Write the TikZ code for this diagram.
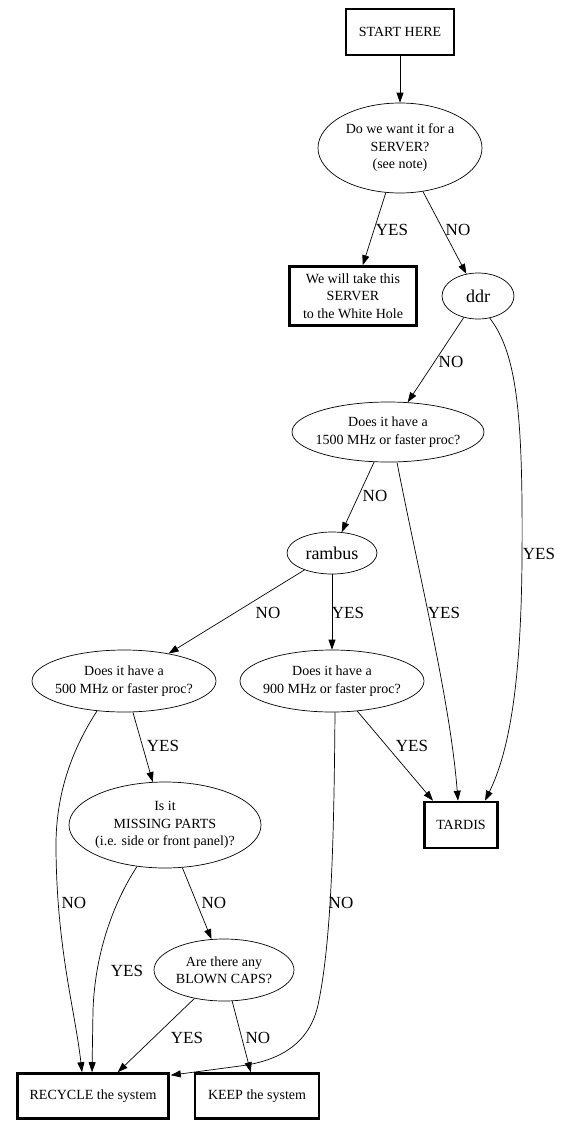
\documentclass[tikz,border=0pt]{standalone}
\usepackage{fontspec}
\setmainfont{Liberation Serif}
\usetikzlibrary{shapes.geometric,arrows.meta}
\begin{document}
\begin{tikzpicture}[x=1pt,y=-1pt,
  box/.style={draw,line width=2.6pt,rectangle,inner sep=0pt,align=center,font=\fontsize{14}{17.5}\selectfont},
  ques/.style={draw,line width=0.7pt,ellipse,inner sep=-15pt,align=center,font=\fontsize{14}{17.5}\selectfont},
  bigq/.style={ques,font=\fontsize{18}{20}\selectfont},
  lbl/.style={inner sep=0pt,font=\fontsize{17}{20}\selectfont},
  conn/.style={draw,line width=0.7pt,-{Triangle[length=10pt,width=7pt]}}]
\useasboundingbox (0,0) rectangle (566,1127);
% nodes
\node[box,minimum width=108pt,minimum height=46pt] (start) at (400,32) {START HERE};
\node[ques,minimum width=164pt,minimum height=90pt] (q1) at (400,148) {Do we want it for a\\SERVER?\\(see note)};
\node[box,minimum width=127pt,minimum height=59pt] (wh) at (353,296) {We will take this\\SERVER\\to the White Hole};
\node[bigq,minimum width=72pt,minimum height=46pt] (ddr) at (478,296) {ddr};
\node[ques,minimum width=192pt,minimum height=60pt] (q3) at (388,432) {Does it have a\\1500 MHz or faster proc?};
\node[bigq,minimum width=90pt,minimum height=42pt] (rambus) at (332,553) {rambus};
\node[ques,minimum width=184pt,minimum height=62pt] (q500) at (124,681) {Does it have a\\500 MHz or faster proc?};
\node[ques,minimum width=184pt,minimum height=62pt] (q900) at (332,681) {Does it have a\\900 MHz or faster proc?};
\node[ques,minimum width=192pt,minimum height=86pt] (missing) at (165,825) {Is it\\MISSING PARTS\\(i.e. side or front panel)?};
\node[box,minimum width=73pt,minimum height=46pt] (tardis) at (461,825) {TARDIS};
\node[ques,minimum width=140pt,minimum height=62pt] (blown) at (224,970) {Are there any\\BLOWN CAPS?};
\node[box,minimum width=151pt,minimum height=45pt] (recycle) at (93,1096) {RECYCLE the system};
\node[box,minimum width=124pt,minimum height=45pt] (keep) at (257,1096) {KEEP the system};
% connectors
\draw[conn] (start) -- (q1);
\draw[conn] (q1) -- (wh);
\draw[conn] (q1) -- (ddr);
\draw[conn] (ddr) -- (q3);
\draw[conn] (ddr.-62) .. controls (518,355) and (523,420) .. (522,560) .. controls (521,680) and (510,750) .. ([xshift=24pt]tardis.north);
\draw[conn] (q3) -- (rambus);
\draw[conn] ([xshift=9pt]q3.south) .. controls (420,580) and (450,700) .. ([xshift=-3pt]tardis.north);
\draw[conn] (rambus) -- (q500);
\draw[conn] (rambus) -- (q900);
\draw[conn] (q500) -- (missing);
\draw[conn] (q500.228) .. controls (75,745) and (55,790) .. (56,850) .. controls (57,950) and (75,1010) .. ([xshift=-11pt]recycle.north);
\draw[conn] (q900.-50) -- ([xshift=-28pt]tardis.north);
\draw[conn] ([xshift=3pt]q900.south) .. controls (334,830) and (332,940) .. (318,1005) .. controls (308,1050) and (270,1062) .. (240,1066) -- ([xshift=1pt,yshift=-3pt]recycle.north east);
\draw[conn] (missing.236) .. controls (112,905) and (95,955) .. (93,1010) -- ([xshift=-1pt]recycle.north);
\draw[conn] (missing) -- (blown);
\draw[conn] (blown) -- (recycle);
\draw[conn] (blown) -- (keep);
% labels
\node[lbl] (l1) at (392,230) {YES};
\node[lbl] (l2) at (458,230) {NO};
\node[lbl] (l3) at (451,362) {NO};
\node[lbl] (l4) at (539,554) {YES};
\node[lbl] (l5) at (375,496) {NO};
\node[lbl] (l6) at (444,613) {YES};
\node[lbl] (l7) at (268,613) {NO};
\node[lbl] (l8) at (348,613) {YES};
\node[lbl] (l9) at (163,746) {YES};
\node[lbl] (l10) at (412,746) {YES};
\node[lbl] (l11) at (74,903) {NO};
\node[lbl] (l12) at (214,903) {NO};
\node[lbl] (l13) at (341,903) {NO};
\node[lbl] (l14) at (127,971) {YES};
\node[lbl] (l15) at (187,1038) {YES};
\node[lbl] (l16) at (258,1038) {NO};
\end{tikzpicture}
\end{document}
